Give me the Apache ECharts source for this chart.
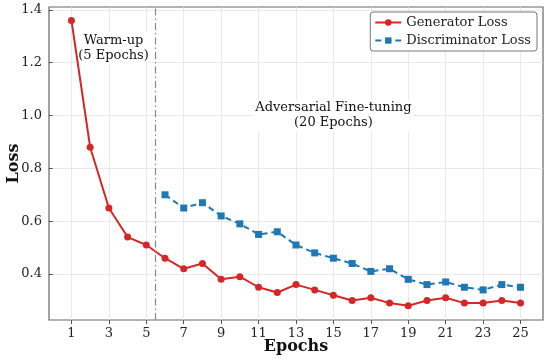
<!DOCTYPE html>
<html><head><meta charset="utf-8">
<script src="https://cdn.jsdelivr.net/npm/echarts@6/dist/echarts.min.js"></script>
<style>html,body{margin:0;padding:0;background:#fff}#c{width:550px;height:362px}</style>
</head><body><div id="c"></div>
<script>
const epochs = [1,2,3,4,5,6,7,8,9,10,11,12,13,14,15,16,17,18,19,20,21,22,23,24,25];
const generatorLoss = [1.36,0.88,0.65,0.54,0.51,0.46,0.42,0.44,0.38,0.39,0.35,0.33,0.36,0.34,0.32,0.30,0.31,0.29,0.28,0.30,0.31,0.29,0.29,0.30,0.29];
const discEpochs = [6,7,8,9,10,11,12,13,14,15,16,17,18,19,20,21,22,23,24,25];
const discriminatorLoss = [0.70,0.65,0.67,0.62,0.59,0.55,0.56,0.51,0.48,0.46,0.44,0.41,0.42,0.38,0.36,0.37,0.35,0.34,0.36,0.35];
const xTicks = [1,3,5,7,9,11,13,15,17,19,21,23,25];
const yTicks = [0.4,0.6,0.8,1.0,1.2,1.4];
const phaseBoundary = 5.5;
const annotations = [
  {x: 3.25, y: 1.255, text: 'Warm-up\n(5 Epochs)'},
  {x: 15, y: 1.0, text: 'Adversarial Fine-tuning\n(20 Epochs)'}
];

const font = '"DejaVu Serif", serif';
const chart = echarts.init(document.getElementById('c'));
const gridLine = {show: true, lineStyle: {color: '#e3e3e3', width: 0.8}};
chart.setOption({
  animation: false,
  backgroundColor: '#fff',
  textStyle: {fontFamily: font},
  grid: {left: 49, right: 7, top: 7, bottom: 42, outerBoundsMode: 'none', containLabel: false,
    show: true, borderColor: '#666', borderWidth: 1.2, backgroundColor: 'transparent'},
  legend: {
    data: ['Generator Loss', 'Discriminator Loss'],
    orient: 'vertical', right: 13, top: 12,
    backgroundColor: '#fff', borderColor: '#777', borderWidth: 1, borderRadius: 3,
    padding: [4, 6, 4, 4], itemGap: 5, itemWidth: 26, itemHeight: 8,
    textStyle: {fontFamily: font, fontSize: 13, color: '#222'}
  },
  xAxis: {
    type: 'value', min: -0.2, max: 26.2,
    name: 'Epochs', nameLocation: 'middle', nameGap: 19, nameMoveOverlap: false,
    nameTextStyle: {fontFamily: font, fontSize: 16, fontWeight: 'bold', color: '#111'},
    axisLine: {show: false},
    axisTick: {show: true, customValues: xTicks, length: 4, lineStyle: {color: '#555'}},
    axisLabel: {customValues: xTicks, fontFamily: font, fontSize: 13, color: '#222', margin: 7},
    splitLine: Object.assign({customValues: xTicks}, gridLine)
  },
  yAxis: {
    type: 'value', min: 0.226, max: 1.411,
    name: 'Loss', nameLocation: 'middle', nameGap: 27, nameRotate: 90, nameMoveOverlap: false,
    nameTextStyle: {fontFamily: font, fontSize: 16, fontWeight: 'bold', color: '#111'},
    axisLine: {show: false},
    axisTick: {show: true, customValues: yTicks, length: 4, lineStyle: {color: '#555'}},
    axisLabel: {customValues: yTicks, fontFamily: font, fontSize: 13, color: '#222', margin: 7,
      formatter: v => v.toFixed(1)},
    splitLine: Object.assign({customValues: yTicks}, gridLine)
  },
  series: [
    {
      name: 'Generator Loss', type: 'line',
      data: epochs.map((e, i) => [e, generatorLoss[i]]),
      symbol: 'circle', symbolSize: 7,
      itemStyle: {color: '#d62728'},
      lineStyle: {color: '#d62728', width: 2},
      z: 3,
      markLine: {
        silent: true, symbol: 'none', label: {show: false},
        lineStyle: {color: '#888', width: 1.2, type: [7, 3, 1.5, 3]},
        data: [{xAxis: phaseBoundary}]
      }
    },
    {
      name: 'Discriminator Loss', type: 'line',
      data: discEpochs.map((e, i) => [e, discriminatorLoss[i]]),
      symbol: 'rect', symbolSize: 7,
      itemStyle: {color: '#1f77b4'},
      lineStyle: {color: '#1f77b4', width: 2, type: [6, 4]},
      z: 3
    },
    {
      name: 'annot', type: 'scatter', symbolSize: 0, silent: true, z: 2,
      itemStyle: {opacity: 1},
      data: annotations.map(a => ({value: [a.x, a.y], label: {formatter: a.text}})),
      label: {show: true, opacity: 1, position: 'inside', fontFamily: font, fontSize: 13, color: '#111',
        textBorderWidth: 0, textBorderColor: 'transparent',
        lineHeight: 15, align: 'center', backgroundColor: '#fff', padding: [1, 2]}
    }
  ]
});
</script></body></html>
